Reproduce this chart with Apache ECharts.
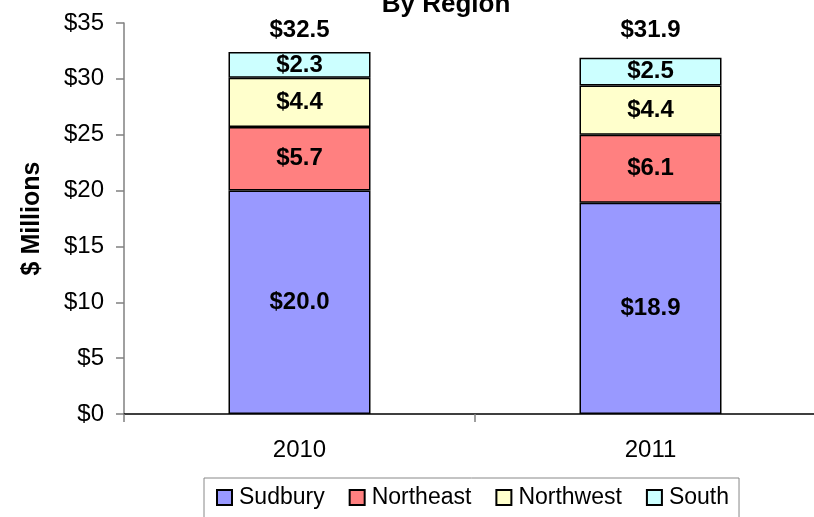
<!DOCTYPE html>
<html>
<head>
<meta charset="utf-8">
<script src="https://cdn.jsdelivr.net/npm/echarts@6/dist/echarts.min.js"></script>
<style>
  html, body { margin: 0; padding: 0; background: #fff; }
  #chart { width: 814px; height: 517px; }
</style>
</head>
<body>
<div id="chart"></div>
<script>
// Revenue by region, stacked per year ($ millions)
const years = ['2010', '2011'];
const sudbury = [20.0, 18.9];
const northeast = [5.7, 6.1];
const northwest = [4.4, 4.4];
const south = [2.3, 2.5];
const totals = [32.5, 31.9];
const yTicks = [0, 5, 10, 15, 20, 25, 30, 35];

const FONT = '"Liberation Sans", Arial, sans-serif';
const money = v => '$' + Number(v).toFixed(1);

function segment(name, data, color) {
  return {
    name: name,
    type: 'bar',
    stack: 'total',
    data: data,
    barWidth: 142,
    itemStyle: { color: color, borderColor: '#000', borderWidth: 1.5 },
    label: {
      show: true,
      position: 'inside',
      formatter: p => money(p.value),
      color: '#000',
      fontFamily: FONT,
      fontWeight: 'bold',
      fontSize: 24
    }
  };
}

const chart = echarts.init(document.getElementById('chart'), null, { renderer: 'canvas' });
chart.setOption({
  animation: false,
  backgroundColor: '#fff',
  title: {
    text: 'By Region',
    left: 441,
    top: -13,
    textAlign: 'center',
    textStyle: { fontFamily: FONT, fontWeight: 'bold', fontSize: 26, color: '#000' }
  },
  grid: { left: 124, top: 23, width: 702, height: 391, outerBoundsMode: 'none', containLabel: false },
  legend: {
    left: 204,
    top: 478,
    itemWidth: 15,
    itemHeight: 15,
    itemGap: 24,
    padding: [8, 10, 20, 12],
    borderColor: '#888',
    borderWidth: 1,
    icon: 'rect',
    textStyle: { fontFamily: FONT, fontSize: 23, color: '#000', padding: [0, 0, 0, 2] },
    data: ['Sudbury', 'Northeast', 'Northwest', 'South']
  },
  xAxis: [
    {
      type: 'category',
      data: years,
      axisLine: { lineStyle: { color: '#000', width: 1.5 } },
      axisTick: { show: true, length: 8, lineStyle: { color: '#808080', width: 1.5 } },
      axisLabel: { fontFamily: FONT, fontSize: 24, color: '#000', margin: 24 }
    },
    {
      type: 'category',
      position: 'top',
      data: totals.map(money),
      axisLine: { show: false },
      axisTick: { show: false },
      axisLabel: { fontFamily: FONT, fontSize: 24, fontWeight: 'bold', color: '#000', margin: -19 }
    }
  ],
  yAxis: {
    type: 'value',
    min: yTicks[0],
    max: yTicks[yTicks.length - 1],
    interval: yTicks[1] - yTicks[0],
    name: '$ Millions',
    nameLocation: 'middle',
    nameGap: 79,
    nameTextStyle: { fontFamily: FONT, fontWeight: 'bold', fontSize: 25, color: '#000' },
    axisLine: { show: true, lineStyle: { color: '#808080', width: 1.5 } },
    axisTick: { show: true, length: 8, lineStyle: { color: '#808080', width: 1.5 } },
    splitLine: { show: false },
    axisLabel: {
      fontFamily: FONT, fontSize: 24, color: '#000', margin: 20,
      formatter: v => '$' + v
    }
  },
  series: [
    segment('Sudbury', sudbury, '#9999FF'),
    segment('Northeast', northeast, '#FF8080'),
    segment('Northwest', northwest, '#FFFFCC'),
    segment('South', south, '#CCFFFF')
  ]
});
</script>
</body>
</html>
